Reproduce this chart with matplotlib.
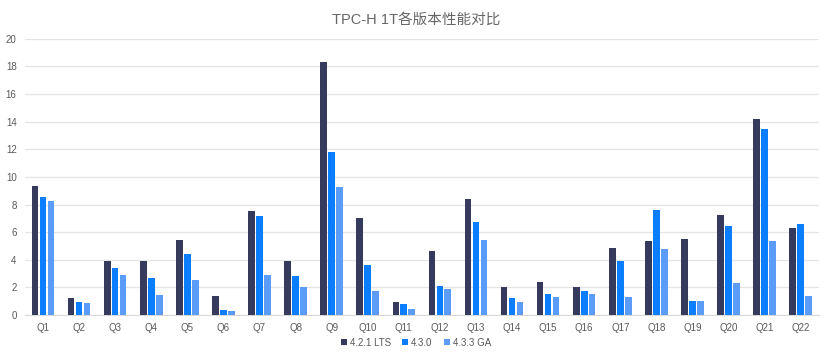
import numpy as np
import matplotlib
matplotlib.use("Agg")
import matplotlib.pyplot as plt

plt.rcParams['font.family'] = ['Liberation Sans', 'Noto Sans CJK SC', 'DejaVu Sans']

queries = [f"Q{i}" for i in range(1, 23)]
v421_lts = [9.33, 1.25, 3.93, 3.9, 5.42, 1.40, 7.54, 3.9, 18.35, 7.01, 0.94,
            4.67, 8.39, 2.02, 2.39, 2.02, 4.84, 5.35, 5.49, 7.23, 14.18, 6.29]
v430 = [8.53, 0.94, 3.40, 2.65, 4.41, 0.39, 7.18, 2.82, 11.8, 3.59, 0.80,
        2.12, 6.72, 1.25, 1.54, 1.76, 3.9, 7.59, 1.01, 6.43, 13.48, 6.58]
v433_ga = [8.29, 0.87, 2.87, 1.47, 2.55, 0.29, 2.89, 2.02, 9.25, 1.76, 0.43,
           1.88, 5.42, 0.94, 1.33, 1.52, 1.33, 4.77, 1.01, 2.34, 5.35, 1.37]
series_names = ["4.2.1 LTS", "4.3.0", "4.3.3 GA"]
colors = ["#363B5E", "#0A7EFF", "#5B9CF9"]

fig = plt.figure(figsize=(8.32, 3.6), dpi=100)
ax = fig.add_axes([0.030, 0.125, 0.954, 0.767])

x = np.arange(len(queries))
w = 0.185
step = 0.22
for i, (vals, name, c) in enumerate(zip([v421_lts, v430, v433_ga], series_names, colors)):
    ax.bar(x + (i - 1) * step, vals, width=w, color=c, label=name, zorder=3)

ax.set_xlim(-0.5, len(queries) - 0.5)
ax.set_ylim(0, 20)
ax.set_yticks(range(0, 21, 2))
ax.set_xticks(x)
ax.set_xticklabels(queries)
ax.tick_params(axis='both', length=0, labelsize=7, colors='#595959')
ax.tick_params(axis='x', pad=6)
ax.tick_params(axis='y', pad=6)
ax.grid(axis='y', color='#E4E4E4', linewidth=0.9, zorder=0)
for s in ['top', 'right', 'left']:
    ax.spines[s].set_visible(False)
ax.spines['bottom'].set_color('#D9D9D9')

# 标题
fig.suptitle("TPC-H 1T各版本性能对比", x=0.5, y=0.965, fontsize=10.5, color='#666666')

leg = fig.legend(loc='lower center', bbox_to_anchor=(0.5, 0.01), ncol=3, frameon=False,
                 fontsize=7, handlelength=0.6, handleheight=0.6, handletextpad=0.3,
                 columnspacing=1.2)
for t in leg.get_texts():
    t.set_color('#595959')

fig.savefig("out.png", dpi=100)
